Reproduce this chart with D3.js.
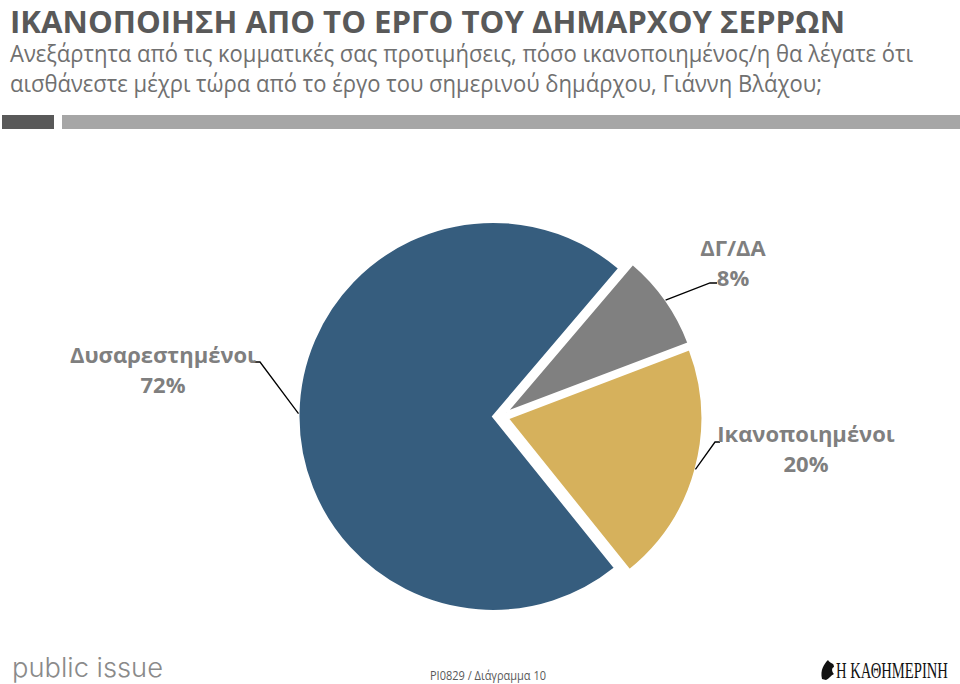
<!DOCTYPE html>
<html><head><meta charset="utf-8">
<script src="https://cdn.jsdelivr.net/npm/d3@7"></script>
<style>body{margin:0;background:#fff}svg{display:block}</style>
</head><body>
<svg id="chart" width="960" height="684"></svg>
<script>
// ---- data ----
const categories = ["Ικανοποιημένοι", "Δυσαρεστημένοι", "ΔΓ/ΔΑ"];
const values = [20, 72, 8];
const valueLabels = ["20%", "72%", "8%"];
const colors = ["#D6B15C", "#365D7E", "#808080"];
const title = "ΙΚΑΝΟΠΟΙΗΣΗ ΑΠΟ ΤΟ ΕΡΓΟ ΤΟΥ ΔΗΜΑΡΧΟΥ ΣΕΡΡΩΝ";
const subtitleLines = [
  "Ανεξάρτητα από τις κομματικές σας προτιμήσεις, πόσο ικανοποιημένος/η θα λέγατε ότι",
  "αισθάνεστε μέχρι τώρα από το έργο του σημερινού δημάρχου, Γιάννη Βλάχου;"
];
const footerLeft = "public issue";
const footerMid = "PI0829 / Διάγραμμα 10";
const footerRight = "Η ΚΑΘΗΜΕΡΙΝΗ";

// ---- layout ----
const svg = d3.select("#chart");
const font = "'Open Sans', 'Noto Sans', sans-serif";
const deg = Math.PI / 180;

// title
svg.append("text").attr("x", 10).attr("y", 33)
  .attr("font-family", font).attr("font-weight", 700).attr("font-size", 31)
  .attr("fill", "#595959").attr("textLength", 835).attr("lengthAdjust", "spacingAndGlyphs")
  .text(title);
const subW = [903, 812];
subtitleLines.forEach((t, i) => {
  svg.append("text").attr("x", 10).attr("y", 62 + i * 30)
    .attr("font-family", font).attr("font-size", 23).attr("fill", "#707070")
    .attr("textLength", subW[i]).attr("lengthAdjust", "spacingAndGlyphs")
    .text(t);
});
// header bars
svg.append("rect").attr("x", 2).attr("y", 115).attr("width", 52).attr("height", 14).attr("fill", "#595959");
svg.append("rect").attr("x", 62).attr("y", 115).attr("width", 898).attr("height", 14).attr("fill", "#A6A6A6");

// pie
const cx = 500.5, cy = 416.5, r = 194.5, explode = 7.5;
const pie = d3.pie().sort(null).value(d => d).startAngle(69.2 * deg).endAngle(69.2 * deg + 2 * Math.PI);
const arcs = pie(values);
const arc = d3.arc().innerRadius(0).outerRadius(r);
const g = svg.append("g").attr("transform", `translate(${cx},${cy})`);
function offset(a) {
  const m = (a.startAngle + a.endAngle) / 2;
  return [explode * Math.sin(m), -explode * Math.cos(m)];
}
g.selectAll("path").data(arcs).join("path")
  .attr("d", arc)
  .attr("transform", d => { const o = offset(d); return `translate(${o[0]},${o[1]})`; })
  .attr("fill", (d, i) => colors[i])
  .attr("stroke", "#fff").attr("stroke-width", 2).attr("stroke-linejoin", "miter");

// labels (layout positions per slice)
const labelLayout = [
  { elbow: [715, 442], end: [720, 442], tx: 806, ty: 442 },
  { elbow: [260, 362], end: [252, 362], tx: 163, ty: 363 },
  { elbow: [710, 283], end: [717, 283], tx: 733, ty: 256 }
];
arcs.forEach((a, i) => {
  const m = (a.startAngle + a.endAngle) / 2;
  const o = offset(a);
  const p0 = [cx + o[0] + r * Math.sin(m), cy + o[1] - r * Math.cos(m)];
  const L = labelLayout[i];
  svg.append("polyline")
    .attr("points", [p0, L.elbow, L.end].map(p => p.join(",")).join(" "))
    .attr("fill", "none").attr("stroke", "#000").attr("stroke-width", 1.3);
  svg.append("text").attr("x", L.tx).attr("y", L.ty).attr("text-anchor", "middle")
    .attr("font-family", font).attr("font-weight", 700).attr("font-size", 22).attr("fill", "#7F7F7F")
    .text(categories[i]);
  svg.append("text").attr("x", L.tx).attr("y", L.ty + 30).attr("text-anchor", "middle")
    .attr("font-family", font).attr("font-weight", 700).attr("font-size", 22).attr("fill", "#7F7F7F")
    .text(valueLabels[i]);
});

// footer
svg.append("text").attr("x", 12).attr("y", 677)
  .attr("font-family", "Inter, Roboto, sans-serif").attr("font-weight", 300).attr("font-size", 27)
  .attr("fill", "#8A8A8A").attr("textLength", 151).attr("lengthAdjust", "spacingAndGlyphs")
  .text(footerLeft);
svg.append("text").attr("x", 430).attr("y", 680)
  .attr("font-family", font).attr("font-size", 12).attr("fill", "#595959")
  .attr("textLength", 116).attr("lengthAdjust", "spacingAndGlyphs")
  .text(footerMid);
// small emblem
svg.append("path").attr("d", "M822,679 C820,670 824,664 828,660 C830,664 834,662 834,667 C831,668 832,672 834,674 C831,675 829,679 826,680 Z")
  .attr("fill", "#111");
const kt = svg.append("g").attr("transform", "translate(836,678)");
const ktText = kt.append("text").attr("x", 0).attr("y", 0)
  .attr("font-family", "'Liberation Serif', 'DejaVu Serif', serif").attr("font-size", 24)
  .attr("fill", "#111").text(footerRight);
const kw = ktText.node().getComputedTextLength();
ktText.attr("transform", `scale(${112 / kw},1)`);
</script>
</body></html>
